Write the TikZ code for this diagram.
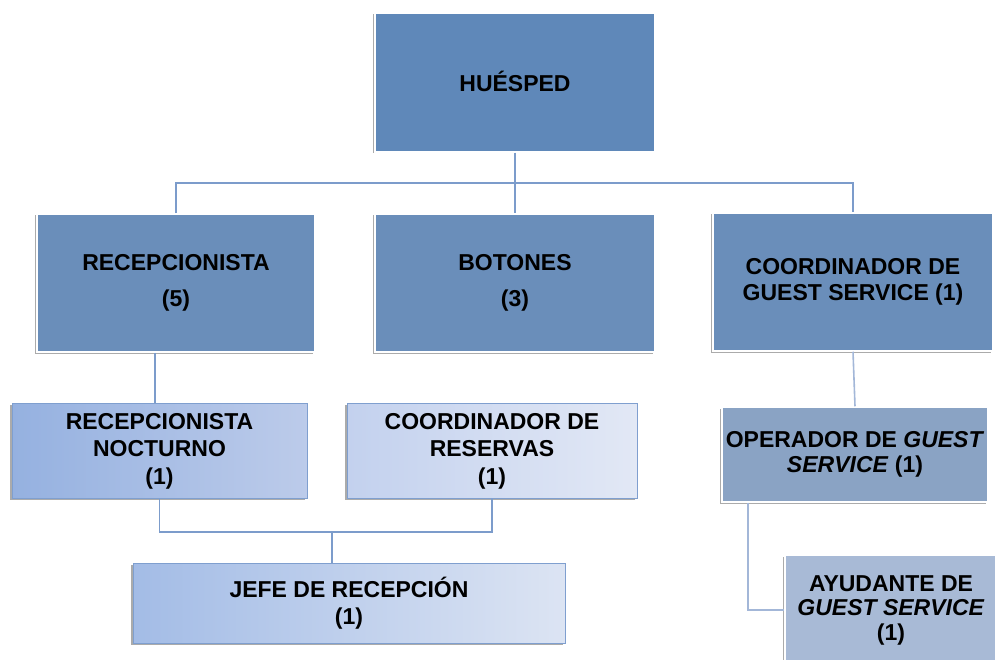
\documentclass[tikz,border=0pt]{standalone}
\usepackage{fontspec}
\setmainfont{Liberation Sans}
\usetikzlibrary{shadows}
\definecolor{topc}{HTML}{5F88B9}
\definecolor{rowc}{HTML}{6A8EBA}
\definecolor{operc}{HTML}{8AA3C4}
\definecolor{ayudc}{HTML}{A8BAD6}
\definecolor{nocl}{HTML}{95B1E0}
\definecolor{nocr}{HTML}{BCCBEA}
\definecolor{resl}{HTML}{C3D1EE}
\definecolor{resr}{HTML}{E2E8F5}
\definecolor{jefl}{HTML}{A3BCE6}
\definecolor{jefr}{HTML}{DCE4F3}
\definecolor{linec}{HTML}{7C9CCB}
\definecolor{linel}{HTML}{A3B7D8}
\definecolor{edgec}{HTML}{7F9FCF}
\begin{document}
\begin{tikzpicture}[x=1pt,y=-1pt,
  base/.style={rectangle, align=center, inner sep=0pt,
    font=\fontsize{23}{27.5}\selectfont\bfseries,
    drop shadow={shadow xshift=-2.5pt, shadow yshift=-1.5pt, fill=black!60, opacity=.55}},
  bigbox/.style={base, fill=#1, draw=white, line width=1.5pt},
  gradbox/.style n args={2}{base, left color=#1, right color=#2, draw=edgec, line width=1pt},
  conn/.style={draw=linec, line width=1.6pt},
  connl/.style={draw=linel, line width=1.6pt}]
\useasboundingbox (0,0) rectangle (995,660);
\clip (0,0) rectangle (995,660);

% nodes
\node[bigbox=topc, minimum width=280pt, minimum height=139pt] (h) at (515,82.5) {\raisebox{2pt}{HUÉSPED}};
\node[bigbox=rowc, minimum width=278pt, minimum height=138pt] (rec) at (176,283) {RECEPCIONISTA\\[8pt](5)};
\node[bigbox=rowc, minimum width=280pt, minimum height=138pt] (bot) at (515,283) {BOTONES\\[8pt](3)};
\node[bigbox=rowc, minimum width=280pt, minimum height=138pt] (coord) at (853,282) {COORDINADOR DE\\[-1pt]GUEST SERVICE (1)};

\node[gradbox={nocl}{nocr}, minimum width=295pt, minimum height=95pt] (noct) at (159.5,451) {RECEPCIONISTA\\NOCTURNO\\(1)};
\node[gradbox={resl}{resr}, minimum width=290pt, minimum height=95pt] (res) at (492,451) {COORDINADOR DE\\RESERVAS\\(1)};
\node[gradbox={jefl}{jefr}, minimum width=432pt, minimum height=80pt] (jefe) at (349,603) {JEFE DE RECEPCIÓN\\(1)};

\node[bigbox=operc, minimum width=266pt, minimum height=95pt] (oper) at (855,454.5) {\raisebox{-3pt}{\parbox{266pt}{\centering OPERADOR DE \textit{GUEST}\\[-3pt]\textit{SERVICE} (1)}}};
\node[bigbox=ayudc, minimum width=212pt, minimum height=110pt] (ayud) at (891,610) {AYUDANTE DE\\[-3pt]\textit{GUEST SERVICE}\\[-3pt](1)};

% helper coordinates
\coordinate (xa) at (155,0);
\coordinate (xj) at (332,0);
\coordinate (xo) at (748,0);
\coordinate (yj) at (0,532);

% connectors
\draw[conn] (h.south) -- (bot.north);
\draw[conn] (rec.north) -- ++(0,-30) -| (coord.north);
\draw[conn] (rec.south -| xa) -- (noct.north -| xa);
\draw[conn] (noct.south) |- (yj -| res.south) -- (res.south);
\draw[conn] (yj -| xj) -- (jefe.north -| xj);
\draw[connl] (coord.south) -- (oper.north);
\draw[connl] (oper.south -| xo) |- (ayud.west);
\end{tikzpicture}
\end{document}
